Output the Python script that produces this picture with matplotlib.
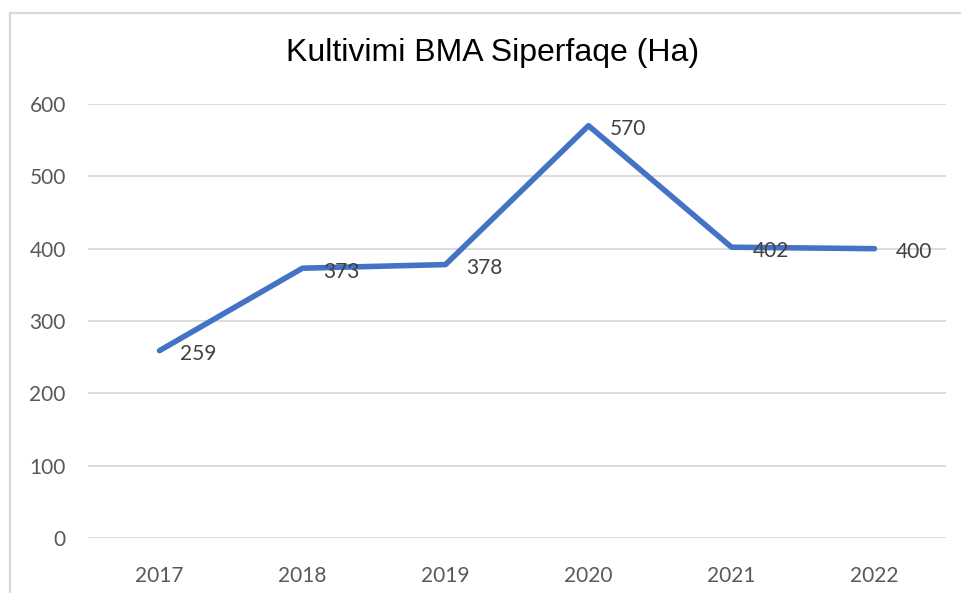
import matplotlib
matplotlib.use("Agg")
import matplotlib.pyplot as plt
from matplotlib.patches import Rectangle

# data
years = ["2017", "2018", "2019", "2020", "2021", "2022"]
area_ha = [259, 373, 378, 570, 402, 400]
y_ticks = [0, 100, 200, 300, 400, 500, 600]
title = "Kultivimi BMA Siperfaqe (Ha)"

W, H = 961, 593
fig = plt.figure(figsize=(W / 100, H / 100), dpi=100)
fig.patch.set_facecolor("white")

# chart-area border (only the top and left edges fall inside the image)
fig.add_artist(Rectangle((10 / W, 0 - 0.1), 1.2, (H - 13) / H + 0.1,
                         transform=fig.transFigure, fill=False,
                         edgecolor="#D9D9D9", lw=1.6))

ax = fig.add_axes([88 / W, 1 - 538 / H, (946 - 88) / W, (538 - 104) / H])
x = list(range(len(years)))
ax.plot(x, area_ha, color="#4472C4", lw=4.0, solid_capstyle="round",
        solid_joinstyle="round", zorder=3)

lab_font = ["Lato", "DejaVu Sans"]
for xi, v in zip(x, area_ha):
    ax.annotate(str(v), (xi, v), xytext=(15, -2.5), textcoords="offset points",
                ha="left", va="center", fontsize=15, color="#404040",
                family=lab_font, zorder=4)

ax.set_xlim(-0.5, len(years) - 0.5)
ax.set_ylim(0, 600)
ax.set_yticks(y_ticks)
ax.set_xticks(x)
ax.set_xticklabels(years)
ax.tick_params(length=0, labelsize=15, labelcolor="#595959")
ax.tick_params(axis="x", pad=20)
ax.tick_params(axis="y", pad=16)
for t in ax.get_xticklabels() + ax.get_yticklabels():
    t.set_family(lab_font)
ax.grid(axis="y", color="#D9D9D9", lw=1.3)
ax.set_axisbelow(True)
for s in ax.spines.values():
    s.set_visible(False)

fig.text(493 / W, 1 - 53 / H, title, ha="center", va="center",
         fontsize=23, color="black", family=["Liberation Sans", "DejaVu Sans"])

fig.savefig("out.png", dpi=100)
